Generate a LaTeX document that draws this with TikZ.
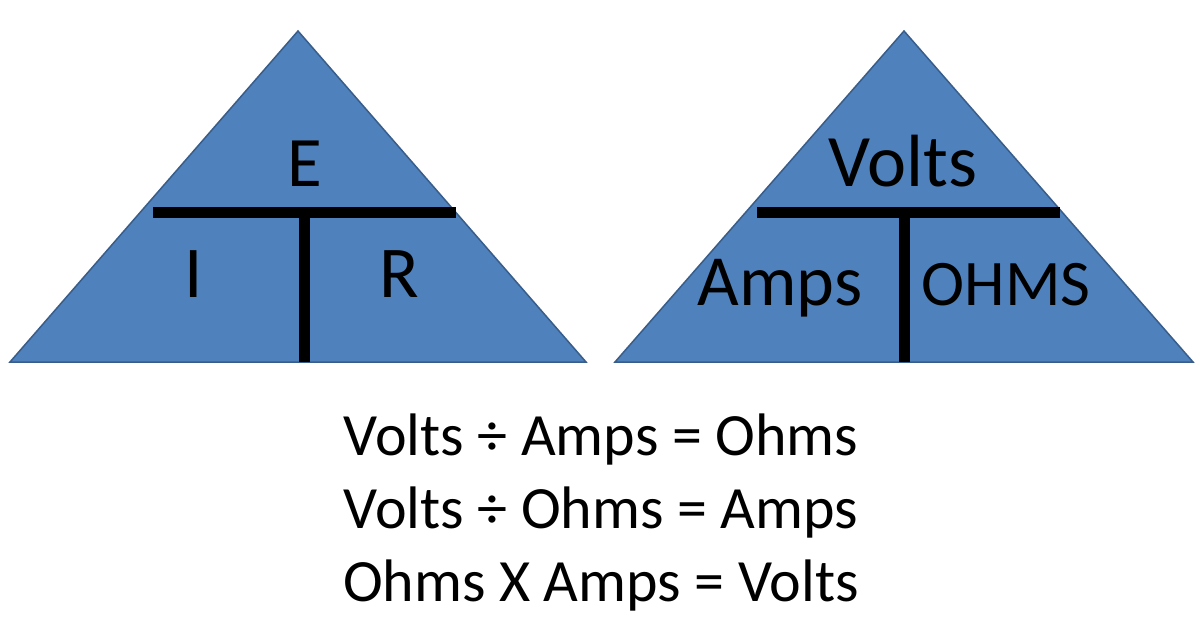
\documentclass[tikz,border=0pt]{standalone}
\usepackage{fontspec}
\setmainfont{Carlito}
\definecolor{triFill}{HTML}{4F81BD}
\definecolor{triEdge}{HTML}{385D8A}
\begin{document}
\begin{tikzpicture}[x=1pt,y=-1pt,
  tri/.style={fill=triFill,draw=triEdge,line width=1.5pt,line join=miter},
  bar/.style={draw=black,line width=11pt},
  lbl/.style={anchor=base,inner sep=0pt,text=black}]
\useasboundingbox (0,0) rectangle (1200,626);
% left triangle
\draw[tri] (298,31) -- (586,362) -- (10,362) -- cycle;
\coordinate (lbL) at (153,212.5);
\coordinate (lbR) at (456,212.5);
\coordinate (lbM) at (304.5,207);
\coordinate (lbB) at (304.5,362);
\draw[bar] (lbL) -- (lbR);
\draw[bar] (lbM) -- (lbB);
\node[lbl,font=\fontsize{71}{80}\selectfont] (E) at (305,186) {E};
\node[lbl,font=\fontsize{73}{80}\selectfont] (I) at (194,297) {I};
\node[lbl,font=\fontsize{73}{80}\selectfont] (R) at (399,297) {R};
% right triangle
\draw[tri] (904,31) -- (1193,362) -- (615,362) -- cycle;
\coordinate (rbL) at (757,212.5);
\coordinate (rbR) at (1060,212.5);
\coordinate (rbM) at (904,207);
\coordinate (rbB) at (904,362);
\draw[bar] (rbL) -- (rbR);
\draw[bar] (rbM) -- (rbB);
\node[lbl,font=\fontsize{74}{80}\selectfont] (volts) at (903,186) {Volts};
\node[lbl,font=\fontsize{72}{80}\selectfont] (amps) at (780,305) {Amps};
\node[lbl,font=\fontsize{65}{70}\selectfont] (ohms) at (1006,305) {OHMS};
% equations
\node[lbl,font=\fontsize{60}{70}\selectfont] (eq1) at (601,455) {Volts ÷ Amps = Ohms};
\node[lbl,font=\fontsize{60}{70}\selectfont] (eq2) at (601,528) {Volts ÷ Ohms = Amps};
\node[lbl,font=\fontsize{60}{70}\selectfont] (eq3) at (601,601) {Ohms X Amps = Volts};
\end{tikzpicture}
\end{document}
